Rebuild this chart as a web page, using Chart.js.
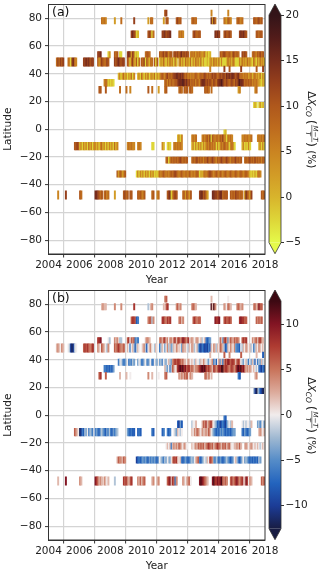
<!DOCTYPE html>
<html lang="en">
<head>
<meta charset="UTF-8">
<title>XCO model minus TCCON, latitude vs time</title>
<script src="https://cdn.jsdelivr.net/npm/chart.js"></script>
<style>
  body { margin: 0; background: #fff; }
  #wrap { position: relative; width: 320px; height: 574px; }
  canvas { position: absolute; }
</style>
</head>
<body>
<div id="wrap">
  <canvas id="mainA" width="320" height="287" style="left:0;top:0"></canvas>
  <canvas id="barA" width="58" height="287" style="left:262px;top:0"></canvas>
  <canvas id="mainB" width="320" height="287" style="left:0;top:286px"></canvas>
  <canvas id="barB" width="58" height="287" style="left:262px;top:286px"></canvas>
</div>
<script>
// axis ticks
const yearTicks = [2004, 2006, 2008, 2010, 2012, 2014, 2016, 2018];
const latTicks = [-80, -60, -40, -20, 0, 20, 40, 60, 80];
const cbTicksA = [-5, 0, 5, 10, 15, 20];
const cbTicksB = [-10, -5, 0, 5, 10];
const rangeA = [-5, 20];
const rangeB = [-12.6, 12.6];

// latitude band of each station row (deg)
const latBands = [
  [81.5, 86], [76, 80.5], [66, 71], [51.5, 56], [45.5, 51.5], [41.5, 45.5],
  [36, 40.5], [31, 36], [26, 31], [15.5, 19.5], [-4, 0], [-9, -4],
  [-15, -9.5], [-24.5, -20], [-34.5, -30], [-50.5, -44.5]
];

// first month (0 = Jan 2004) of each run of monthly values, per row
const startMonth = [
  [90, 126, 139],
  [41, 51, 56, 66, 77, 79, 89, 91, 99, 111, 126, 136, 146, 159],
  [64, 77, 88, 101, 112, 129, 136, 148, 161],
  [38, 46, 51, 55, 61, 75, 86, 97, 110, 122, 133, 150, 158],
  [6, 15, 27, 38, 51, 61, 86],
  [125, 136, 140, 149, 161, 166],
  [54, 86],
  [43, 90],
  [39, 44, 55, 60, 63, 77, 80, 85, 90, 101, 105, 109, 121, 126, 147, 160],
  [159, 163],
  [136],
  [100, 111, 119, 150, 162],
  [20, 61, 69, 80, 88, 92, 97, 111, 122, 150, 163],
  [91, 111, 152],
  [53, 68],
  [7, 13, 24, 36, 43, 51, 58, 63, 69, 80, 84, 92, 104, 117, 127, 141, 152, 165]
];

// panel (a): one digit per month, value = -5 + 2.5*digit, '.' = no data
const codesA = [
  ['67', '4', '4'],
  ['5454', '3', '5', '7', '3', '55', '3', '66', '6756', '5655', '8385', '543654', '56545', '6656756'],
  ['787612', '67615', '7786778', '5454', '676566', '8787', '676676', '787876', '66566'],
  ['778', '13', '656', '11', '787376121', '5665', '6567576466', '676757867676', '454535454345', '1312',
   '656765565476565', '7676', '565465756'],
  ['575767', '5417854', '77878677', '635765576', '76787677', '6515742615.657164255.616',
   '1425314253' + '4152.35241' + '5342514253' + '4251311213' + '4253425141' + '1125342531' +
   '1142534253' + '4215314253' + '42'],
  ['4', '7', '6', '7', '6', '7'],
  ['2413524132514..24153142513425142',
   '3565467565' + '6778878786' + '5645454565' + '4565676565' + '6767656767' + '7687878876' +
   '7865545453' + '4524534251' + '42'],
  ['45512121',
   '5646465566' + '7888987867' + '5656465478' + '8867676576' + '5788986676' + '5676576898' +
   '8756565645' + '45432132'],
  ['66', '6', '5', '5', '4', '6', '5', '3', '56', '565', '656', '565', '6565', '5', '34', '45'],
  ['131', '1412'],
  ['12'],
  ['2414', '4545', '454564716545546574415454', '44545445', '454545'],
  ['6676241424152414424145241414241524', '454544', '454', '11', '42', '121', '4545454',
   '24141424142', '45464545141454654514541', '2412141', '24141'],
  ['56146565656765656', '565675656465765676546567656765465675656', '5656756575656465'],
  ['6356346',
   '141424142414241' + '2135456545' + '4565676545' + '6545546545' + '4565132454' + '5676545654' +
   '6545654565' + '4565456545' + '6542121314' + '54'],
  ['4', '7', '65', '887656', '5645', '3', '6756', '66', '656546', '56', '45', '67814676', '5636536',
   '7886753', '887767885666', '6565766565', '386537', '656']
];

// panel (b): one letter per month, value = -12 + 2*(letter - 'a'), '.' = no data
const codesB = [
  ['ij', 'h', 'g'],
  ['hihh', 'i', 'i', 'k', 'f', 'hi', 'h', 'jk', 'ijhi', 'ijih', 'mhmi', 'ihgjih', 'ijihi', 'ijhiljj'],
  ['jkkjcd', 'ijjfi', 'kkjikjk', 'ijhi', 'jkjijj', 'lkkl', 'jkjjkj', 'klkkjj', 'jijij'],
  ['kkl', 'gf', 'ihi', 'ff', 'jkgjijded', 'hiih', 'ijhjkhigii', 'jkhjkijlkjik', 'hihghihghfgh', 'dcde',
   'jhejkiehjihjiji', 'jkjk', 'ihijhjkih'],
  ['hihgih', 'gfbabfg', 'jkjkjijk', 'ihgjihgfi', 'jijkjiij', 'hgdghfcfhg.ghifcghig.fhg',
   'dfhgegifhe' + 'fhgi.hgeih' + 'hgfhgihfgh' + 'ecbdcbcbdc' + 'hgihfhgjih' + 'fcdhgihgie' +
   'ddcgfhgihg' + 'hfgdfhgihg' + 'hg'],
  ['h', 'j', 'i', 'j', 'h', 'c'],
  ['dfgeddfgdedfe..egfddfgedfgddgfeg',
   'efdgfeghfe' + 'ijkjkkjijh' + 'hgihghgfhg' + 'gfhgihgfeg' + 'hidfcgiehd' + 'ikjlkjkkjh' +
   'jkjgfeghfd' + 'gehfcgdfeh' + 'fg'],
  ['ddcdcdce',
   'hfegdfjigh' + 'klmlmkljkk' + 'ijihiijklm' + 'lmkjkjihkj' + 'ijlkmmjkkj' + 'ijkjijlmlm' +
   'kljhihihgh' + 'gfgdcbdc'],
  ['jk', 'j', 'h', 'h', 'g', 'i', 'h', 'g', 'ij', 'ihi', 'jij', 'hih', 'ijhi', 'h', 'dc', 'hi'],
  ['fba', 'ecba'],
  ['dc'],
  ['cbec', 'fggh', 'hjikhijkhgfecdbcdcbdfgfh', 'gfgfggfh', 'efdfge'],
  ['jihgabdcfegdfedgdedcefedcedfdcedef', 'edcdcc', 'cdc', 'dc', 'cd', 'dcd', 'gfehgfg',
   'hgihjihgihh', 'ihjigfedcdcededcdcdcdee', 'dcedcde', 'hihgh'],
  ['ghghdhihihjihgihg', 'hghihjijijhijkjijhijkjihjijhijhgghhihjh', 'hihghihghghgfghg'],
  ['hjiihji',
   'bcdcdededcedede' + 'dcegfedfeg' + 'fegikjkhgh' + 'dcdedcdefe' + 'ghijdcefgf' + 'hgkjiedfec' +
   'edcdefedcd' + 'eghfdcdfge' + 'fedcdcdcdc' + 'fe'],
  ['h', 'l', 'ih', 'lkjhih', 'ihgh', 'f', 'kjki', 'jk', 'ihjhij', 'hi', 'hi', 'jklhkjdi', 'ihghijg',
   'lmlkjih', 'lmkklklmjiji', 'jkijkljijk', 'hlkgih', 'jij']
];

// colour maps
const solarRev = [
  [229, 250, 74], [222, 214, 56], [216, 180, 44], [210, 155, 38], [202, 132, 33], [190, 108, 30],
  [175, 88, 28], [150, 64, 28], [118, 44, 28], [82, 28, 26], [51, 20, 24]
];
const balance = [
  [24, 28, 67], [28, 60, 150], [35, 100, 190], [85, 140, 200], [160, 185, 210], [241, 236, 236],
  [220, 170, 155], [200, 115, 90], [175, 60, 50], [130, 20, 35], [60, 9, 18]
];

const rgb = c => `rgb(${c[0]},${c[1]},${c[2]})`;
function makeMap(stops, lo, hi) {
  return v => {
    let t = Math.max(0, Math.min(1, (v - lo) / (hi - lo))) * (stops.length - 1);
    const i = Math.min(Math.floor(t), stops.length - 2), f = t - i;
    const a = stops[i], b = stops[i + 1];
    return rgb([0, 1, 2].map(k => Math.round(a[k] + (b[k] - a[k]) * f)));
  };
}

const decodeA = ch => (ch >= '0' && ch <= '9') ? -5 + 2.5 * (+ch) : null;
const decodeB = ch => (ch >= 'a' && ch <= 'm') ? -12 + 2 * (ch.charCodeAt(0) - 97) : null;

function buildCells(codes, decode) {
  const out = [];
  latBands.forEach((band, r) => {
    startMonth[r].forEach((m0, k) => {
      const s = codes[r][k] || '';
      for (let i = 0; i < s.length; i++) {
        const v = decode(s[i]);
        if (v === null) continue;
        out.push({ x: 2004 + (m0 + i + 0.5) / 12, y: band, v: v });
      }
    });
  });
  return out;
}

Chart.defaults.font.family = '"DejaVu Sans", sans-serif';
Chart.defaults.font.size = 10.5;
Chart.defaults.color = '#222';

const minusFmt = v => (v < 0 ? '\u2212' + Math.abs(v) : String(v));
const setTicks = arr => s => { s.ticks = arr.map(v => ({ value: v })); };

const framePlugin = {
  id: 'panelFrame',
  afterDraw(chart, args, opts) {
    const { ctx, chartArea: a } = chart;
    ctx.save();
    ctx.strokeStyle = '#333';
    ctx.lineWidth = 1;
    ctx.strokeRect(a.left, a.top, a.right - a.left, a.bottom - a.top);
    ctx.fillStyle = '#111';
    ctx.font = '12.5px "DejaVu Sans"';
    ctx.textBaseline = 'middle';
    ctx.fillText(opts.tag, a.left + 3.5, a.top + 8);
    ctx.restore();
  }
};

function drawUnitLabel(ctx, cx, cy) {
  const F = (s, it) => (it ? 'italic ' : '') + s + 'px "DejaVu Sans"';
  const pieces = [
    { t: '\u0394', f: F(10.5), dy: 0 },
    { t: 'X', f: F(10.5, true), dy: 0 },
    { t: 'CO', f: F(7.5, true), dy: 2.6 },
    { gap: 3 },
    { t: '(', f: F(13), dy: 1.2 },
    { frac: ['M\u2212T', 'T'], f: F(7, true) },
    { t: ')', f: F(13), dy: 1.2 },
    { gap: 3 },
    { t: '(%)', f: F(10.5), dy: 0 }
  ];
  ctx.save();
  ctx.translate(cx, cy);
  ctx.rotate(Math.PI / 2);
  ctx.fillStyle = '#222';
  ctx.strokeStyle = '#222';
  ctx.textAlign = 'left';
  ctx.textBaseline = 'alphabetic';
  const widths = pieces.map(p => {
    if (p.gap) return p.gap;
    ctx.font = p.f;
    return p.frac ? Math.max(...p.frac.map(s => ctx.measureText(s).width)) + 1 : ctx.measureText(p.t).width;
  });
  let x = -widths.reduce((a, b) => a + b, 0) / 2;
  const base = 3.8;
  pieces.forEach((p, i) => {
    if (p.t) {
      ctx.font = p.f;
      ctx.fillText(p.t, x, base + p.dy);
    } else if (p.frac) {
      ctx.font = p.f;
      ctx.textAlign = 'center';
      const mid = x + widths[i] / 2, axis = base - 3.6;
      ctx.fillText(p.frac[0], mid, axis - 1.3);
      ctx.fillText(p.frac[1], mid, axis + 6.3);
      ctx.lineWidth = 0.6;
      ctx.beginPath();
      ctx.moveTo(x, axis);
      ctx.lineTo(x + widths[i], axis);
      ctx.stroke();
      ctx.textAlign = 'left';
    }
    x += widths[i];
  });
  ctx.restore();
}

const cbarPlugin = {
  id: 'cbar',
  afterDraw(chart, args, opts) {
    const { ctx, chartArea: a } = chart;
    const y = chart.scales.y;
    const top = y.getPixelForValue(y.max), bot = y.getPixelForValue(y.min);
    const ext = 11, mid = (a.left + a.right) / 2;
    const st = opts.stops;
    ctx.save();
    const grad = ctx.createLinearGradient(0, bot, 0, top);
    st.forEach((c, i) => grad.addColorStop(i / (st.length - 1), rgb(c)));
    ctx.fillStyle = grad;
    ctx.fillRect(a.left, top, a.right - a.left, bot - top);
    ctx.fillStyle = rgb(st[st.length - 1]);
    ctx.beginPath();
    ctx.moveTo(a.left, top); ctx.lineTo(mid, top - ext); ctx.lineTo(a.right, top); ctx.closePath();
    ctx.fill();
    ctx.fillStyle = rgb(st[0]);
    ctx.beginPath();
    ctx.moveTo(a.left, bot); ctx.lineTo(mid, bot + ext); ctx.lineTo(a.right, bot); ctx.closePath();
    ctx.fill();
    ctx.strokeStyle = '#333';
    ctx.lineWidth = 0.8;
    ctx.beginPath();
    ctx.moveTo(a.left, top); ctx.lineTo(mid, top - ext); ctx.lineTo(a.right, top);
    ctx.lineTo(a.right, bot); ctx.lineTo(mid, bot + ext); ctx.lineTo(a.left, bot); ctx.closePath();
    ctx.stroke();
    ctx.restore();
    drawUnitLabel(ctx, a.right + 31, (top + bot) / 2 + 1);
  }
};

function heatChart(id, cells, cmap, tag) {
  return new Chart(document.getElementById(id), {
    type: 'bar',
    data: {
      datasets: [{
        data: cells,
        backgroundColor: c => (c.raw ? cmap(c.raw.v) : 'transparent'),
        borderWidth: 0,
        grouped: false,
        barPercentage: 1,
        categoryPercentage: 1
      }]
    },
    options: {
      responsive: false,
      animation: false,
      devicePixelRatio: 1,
      layout: { padding: { left: 0, right: 55, top: 4.5, bottom: 0 } },
      plugins: { legend: { display: false }, tooltip: { enabled: false }, panelFrame: { tag: tag } },
      scales: {
        x: {
          type: 'linear', min: 2004, max: 2018, offset: false,
          afterBuildTicks: setTicks(yearTicks),
          afterFit: s => { s.height = 33; s.paddingLeft = 0; s.paddingRight = 0; },
          grid: { color: '#d4d4d4', lineWidth: 1.2, tickLength: 3.5, tickColor: '#333', tickWidth: 1 },
          border: { display: true, color: '#333', width: 1 },
          ticks: { callback: v => String(v), padding: 1.5, maxRotation: 0, autoSkip: false },
          title: { display: true, text: 'Year', padding: { top: 0, bottom: 0 } }
        },
        y: {
          type: 'linear', min: -90, max: 90,
          afterBuildTicks: setTicks(latTicks),
          afterFit: s => { s.width = 48.5; s.paddingTop = 0; s.paddingBottom = 0; },
          grid: { color: '#d4d4d4', lineWidth: 1.2, tickLength: 3.5, tickColor: '#333', tickWidth: 1 },
          border: { display: true, color: '#333', width: 1 },
          ticks: { callback: minusFmt, padding: 3, autoSkip: false },
          title: { display: true, text: 'Latitude', padding: { top: 1.7, bottom: 0 } }
        }
      }
    },
    plugins: [framePlugin]
  });
}

function colorBar(id, stops, range, ticks) {
  return new Chart(document.getElementById(id), {
    type: 'bar',
    data: { labels: [''], datasets: [] },
    options: {
      responsive: false,
      animation: false,
      devicePixelRatio: 1,
      layout: { padding: { left: 7, top: 15, bottom: 44.3, right: 0 } },
      plugins: { legend: { display: false }, tooltip: { enabled: false }, cbar: { stops: stops } },
      scales: {
        x: { display: false },
        y: {
          position: 'right', min: range[0], max: range[1],
          afterBuildTicks: setTicks(ticks),
          afterFit: s => { s.width = 39; s.paddingTop = 0; s.paddingBottom = 0; },
          grid: { drawOnChartArea: false, tickLength: 3, tickColor: '#333', color: '#333' },
          border: { display: false },
          ticks: { callback: minusFmt, padding: 1.5, autoSkip: false }
        }
      }
    },
    plugins: [cbarPlugin]
  });
}

heatChart('mainA', buildCells(codesA, decodeA), makeMap(solarRev, rangeA[0], rangeA[1]), '(a)');
colorBar('barA', solarRev, rangeA, cbTicksA);
heatChart('mainB', buildCells(codesB, decodeB), makeMap(balance, rangeB[0], rangeB[1]), '(b)');
colorBar('barB', balance, rangeB, cbTicksB);
</script>
</body>
</html>
